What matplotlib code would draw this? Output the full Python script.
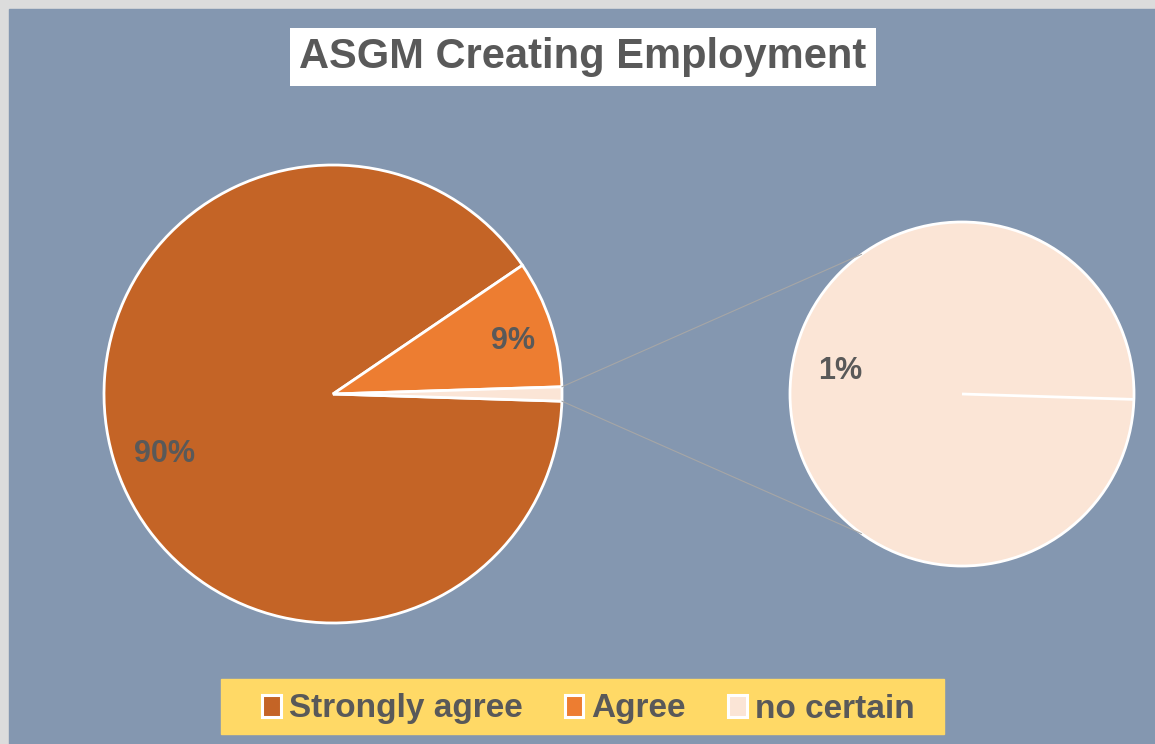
import matplotlib
matplotlib.use("Agg")
import numpy as np
import matplotlib.pyplot as plt
from matplotlib.patches import Rectangle, ConnectionPatch

plt.rcParams["font.family"] = ["Liberation Sans", "DejaVu Sans"]

categories = ["Strongly agree", "Agree", "no certain"]
values = [90, 9, 1]
colors = ["#C46426", "#ED7D31", "#FBE5D6"]
title = "ASGM Creating Employment"

TEXT = "#595959"
BG = "#8497B0"
W, H = 1155, 744

fig = plt.figure(figsize=(W / 100, H / 100), dpi=100, facecolor="#DCDCDC")
fig.patches.append(Rectangle((9 / W, 0), 1 - 9 / W, 1 - 9 / H,
                             transform=fig.transFigure, color=BG, zorder=-10))

# left (main) pie: small slice centred on the right-hand side
start = -values[2] / sum(values) * 360 / 2
ax1 = fig.add_axes([(333 - 229) / W, 1 - (394 + 229) / H, 458 / W, 458 / H])
wedges, _, autotexts = ax1.pie(
    values, colors=colors, startangle=start, counterclock=False,
    autopct=lambda p: f"{p:.0f}%" if p > 5 else "", pctdistance=0.8,
    wedgeprops=dict(edgecolor="white", linewidth=2),
    textprops=dict(color=TEXT, fontsize=22, fontweight="bold"))
ax1.set_xlim(-1, 1)
ax1.set_ylim(-1, 1)
autotexts[0].set_position((-0.736, -0.264))
autotexts[1].set_position((0.786, 0.231))

# right pie: breakout of the last slice
ax2 = fig.add_axes([(962 - 172) / W, 1 - (394 + 172) / H, 344 / W, 344 / H])
sub, _ = ax2.pie([values[2]], colors=[colors[2]], startangle=start, counterclock=False,
                 wedgeprops=dict(edgecolor="white", linewidth=2))
ax2.set_xlim(-1, 1)
ax2.set_ylim(-1, 1)
# full-circle wedge has no radial edge, so draw the seam
a = np.radians(sub[0].theta1)
ax2.plot([0, np.cos(a)], [0, np.sin(a)], color="white", linewidth=2,
         solid_capstyle="butt")
ax2.text(-0.709, 0.134, f"{values[2]}%", ha="center", va="center",
         color=TEXT, fontsize=22, fontweight="bold")

# connector lines from the small slice to the breakout pie
small = wedges[2]
for t1, t2 in [(small.theta2, 125.7), (small.theta1, 234.3)]:
    p1 = (np.cos(np.radians(t1)), np.sin(np.radians(t1)))
    p2 = (np.cos(np.radians(t2)), np.sin(np.radians(t2)))
    con = ConnectionPatch(xyA=p1, coordsA=ax1.transData,
                          xyB=p2, coordsB=ax2.transData,
                          color="#A6A6A6", linewidth=0.8)
    fig.add_artist(con)

fig.text(583 / W, 1 - 57 / H, title, ha="center", va="center",
         fontsize=30, fontweight="bold", color=TEXT,
         bbox=dict(boxstyle="square,pad=0.22", facecolor="white", edgecolor="none"))

# legend band
fig.patches.append(Rectangle((221 / W, 1 - 734 / H), 723 / W, 55 / H,
                             transform=fig.transFigure, color="#FFD966", zorder=-5))
leg = fig.legend(wedges, categories, ncol=3, loc="center",
                 bbox_to_anchor=(588.5 / W, 1 - 709 / H),
                 fontsize=24, frameon=False,
                 handlelength=0.55, handleheight=0.63, handletextpad=0.25,
                 columnspacing=1.27, borderpad=0, borderaxespad=0)
for t in leg.get_texts():
    t.set_color(TEXT)
    t.set_fontweight("bold")
for h in leg.legend_handles:
    h.set_linewidth(2.2)

fig.savefig("out.png", dpi=100, facecolor=fig.get_facecolor())
